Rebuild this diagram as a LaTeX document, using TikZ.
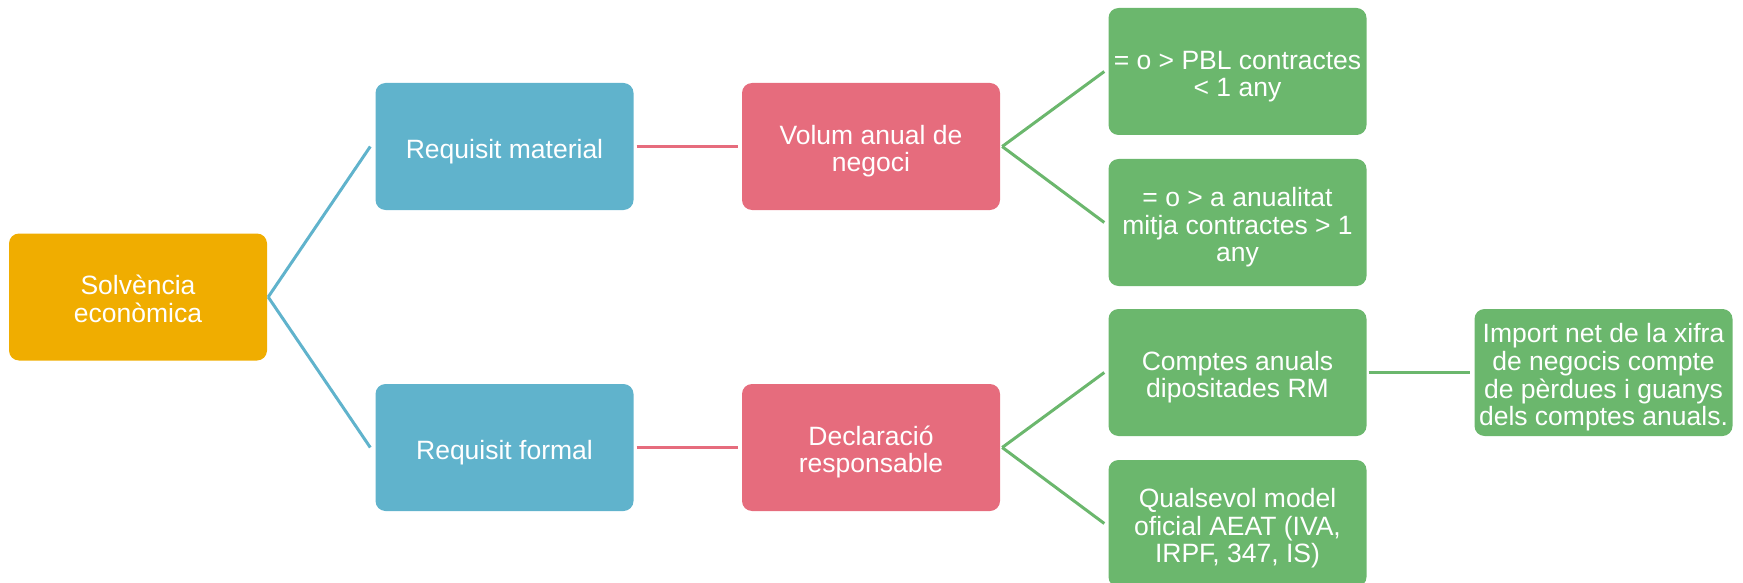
\documentclass[tikz,border=0pt]{standalone}
\usepackage{fontspec}
\setmainfont{Liberation Sans}
\definecolor{cOrange}{HTML}{F0AD00}
\definecolor{cBlue}{HTML}{60B3CC}
\definecolor{cPink}{HTML}{E66C7D}
\definecolor{cGreen}{HTML}{6BB76D}
\newcommand\boxfont{\fontsize{26.5}{27.5}\selectfont}
\newcommand\bt[1]{\begin{tabular}{@{}c@{}}\rule{0pt}{31.5pt}#1\end{tabular}}
\tikzset{
  box/.style={rectangle, rounded corners=10pt, draw=none, text=white,
    minimum width=258pt, minimum height=127pt, inner sep=0pt,
    font=\boxfont},
  orangebox/.style={box, fill=cOrange},
  bluebox/.style={box, fill=cBlue},
  pinkbox/.style={box, fill=cPink},
  greenbox/.style={box, fill=cGreen},
  blueline/.style={draw=cBlue, line width=3pt},
  pinkline/.style={draw=cPink, line width=3.5pt},
  greenline/.style={draw=cGreen, line width=3pt},
}
\begin{document}
\begin{tikzpicture}[x=1pt, y=-1pt]
\useasboundingbox (0,0) rectangle (1743,583);
\clip (0,0) rectangle (1743,583);
\node[orangebox] (solv) at (138,297) {\bt{Solvència\\econòmica}};
\node[bluebox] (rm) at (504.5,146.5) {\bt{Requisit material}};
\node[bluebox] (rf) at (504.5,447.5) {\bt{Requisit formal}};
\node[pinkbox] (vol) at (871,146.5) {\bt{Volum anual de\\negoci}};
\node[pinkbox] (dec) at (871,447.5) {\bt{Declaració\\responsable}};
\node[greenbox] (g1) at (1237.5,71.5) {\bt{= o > PBL contractes\\< 1 any}};
\node[greenbox] (g2) at (1237.5,222.5) {\bt{= o > a anualitat\\mitja contractes > 1\\any}};
\node[greenbox] (g3) at (1237.5,372.5) {\bt{Comptes anuals\\dipositades RM}};
\node[greenbox] (g4) at (1237.5,523.5) {\bt{Qualsevol model\\oficial AEAT (IVA,\\IRPF, 347, IS)}};
\node[greenbox] (imp) at (1603.5,372.5) {\bt{Import net de la xifra\\de negocis compte\\de pèrdues i guanys\\dels comptes anuals.}};
% connectors
\draw[blueline] ([xshift=1pt]solv.east) -- ([xshift=-5pt]rm.west);
\draw[blueline] ([xshift=1pt]solv.east) -- ([xshift=-5pt]rf.west);
\draw[pinkline] ([xshift=3pt]rm.east) -- ([xshift=-4pt]vol.west);
\draw[pinkline] ([xshift=3pt]rf.east) -- ([xshift=-4pt]dec.west);
\draw[greenline] ([xshift=2pt]vol.east) -- ([xshift=-4pt]g1.west);
\draw[greenline] ([xshift=2pt]vol.east) -- ([xshift=-4pt]g2.west);
\draw[greenline] ([xshift=2pt]dec.east) -- ([xshift=-4pt]g3.west);
\draw[greenline] ([xshift=2pt]dec.east) -- ([xshift=-4pt]g4.west);
\draw[greenline] ([xshift=2pt]g3.east) -- ([xshift=-4pt]imp.west);
\end{tikzpicture}
\end{document}
